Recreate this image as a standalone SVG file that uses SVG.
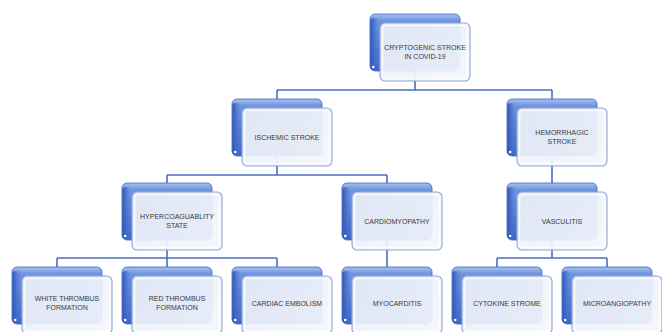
<svg xmlns="http://www.w3.org/2000/svg" width="662" height="332" viewBox="0 0 662 332">
  <defs>
    <linearGradient id="backG" x1="0" y1="0" x2="0" y2="1">
      <stop offset="0" stop-color="#a8c0ee"/>
      <stop offset="0.12" stop-color="#6d93e0"/>
      <stop offset="1" stop-color="#3f69c8"/>
    </linearGradient>
    <linearGradient id="backSide" x1="0" y1="0" x2="1" y2="0">
      <stop offset="0" stop-color="#2f57b4"/>
      <stop offset="1" stop-color="#4a74d0" stop-opacity="0"/>
    </linearGradient>
    <linearGradient id="frontG" x1="0" y1="0" x2="1" y2="1">
      <stop offset="0" stop-color="#e9edf7"/>
      <stop offset="1" stop-color="#f5f7fc"/>
    </linearGradient>
    <g id="card">
      <rect x="0" y="0" width="90" height="57" rx="5" fill="url(#backG)" stroke="#3d66c2" stroke-width="0.8"/>
      <rect x="0.5" y="4" width="8" height="52" rx="3" fill="url(#backSide)"/>
      <circle cx="3.2" cy="53" r="1.3" fill="#ffffff"/>
      <rect x="10" y="9" width="90" height="58" rx="5" fill="url(#frontG)" fill-opacity="0.93" stroke="#8ca6da" stroke-width="1.1"/>
      <rect x="12.5" y="11.5" width="85" height="53" rx="3.5" fill="none" stroke="#ffffff" stroke-width="1.6" stroke-opacity="0.8"/>
    </g>
  </defs>
  <style>
    .conn { stroke: #4a70c0; stroke-width: 1.6; fill: none; }
    .lbl { font-family: "Liberation Sans", Arial, sans-serif; font-size: 7px; fill: #3a3a3a; text-anchor: middle; }
  </style>

  <g id="connectors">
    <path class="conn" d="M415 70 V90 M277 90 H552 M277 90 V99 M552 90 V99"/>
    <path class="conn" d="M277 155 V175 M167 175 H387 M167 175 V183 M387 175 V183"/>
    <path class="conn" d="M552 155 V183"/>
    <path class="conn" d="M167 240 V258 M57 258 H277 M57 258 V267 M167 258 V267 M277 258 V267"/>
    <path class="conn" d="M387 240 V267"/>
    <path class="conn" d="M552 240 V258 M497 258 H607 M497 258 V267 M607 258 V267"/>
  </g>

  <g id="node-cryptogenic" transform="translate(370,14)">
    <use href="#card"/>
    <text class="lbl" x="55" y="36">CRYPTOGENIC STROKE</text>
    <text class="lbl" x="55" y="45">IN COVID-19</text>
  </g>
  <g id="node-ischemic" transform="translate(232,99)">
    <use href="#card"/>
    <text class="lbl" x="55" y="40.5">ISCHEMIC STROKE</text>
  </g>
  <g id="node-hemorrhagic" transform="translate(507,99)">
    <use href="#card"/>
    <text class="lbl" x="55" y="36">HEMORRHAGIC</text>
    <text class="lbl" x="55" y="45">STROKE</text>
  </g>
  <g id="node-hypercoag" transform="translate(122,183)">
    <use href="#card"/>
    <text class="lbl" x="55" y="36">HYPERCOAGUABLITY</text>
    <text class="lbl" x="55" y="45">STATE</text>
  </g>
  <g id="node-cardiomyopathy" transform="translate(342,183)">
    <use href="#card"/>
    <text class="lbl" x="55" y="40.5">CARDIOMYOPATHY</text>
  </g>
  <g id="node-vasculitis" transform="translate(507,183)">
    <use href="#card"/>
    <text class="lbl" x="55" y="40.5">VASCULITIS</text>
  </g>
  <g id="node-white" transform="translate(12,267)">
    <use href="#card"/>
    <text class="lbl" x="55" y="34">WHITE THROMBUS</text>
    <text class="lbl" x="55" y="43">FORMATION</text>
  </g>
  <g id="node-red" transform="translate(122,267)">
    <use href="#card"/>
    <text class="lbl" x="55" y="34">RED THROMBUS</text>
    <text class="lbl" x="55" y="43">FORMATION</text>
  </g>
  <g id="node-cardiac-embolism" transform="translate(232,267)">
    <use href="#card"/>
    <text class="lbl" x="55" y="39">CARDIAC EMBOLISM</text>
  </g>
  <g id="node-myocarditis" transform="translate(342,267)">
    <use href="#card"/>
    <text class="lbl" x="55" y="39">MYOCARDITIS</text>
  </g>
  <g id="node-cytokine" transform="translate(452,267)">
    <use href="#card"/>
    <text class="lbl" x="55" y="39">CYTOKINE STROME</text>
  </g>
  <g id="node-microangiopathy" transform="translate(562,267)">
    <use href="#card"/>
    <text class="lbl" x="55" y="39">MICROANGIOPATHY</text>
  </g>
</svg>
